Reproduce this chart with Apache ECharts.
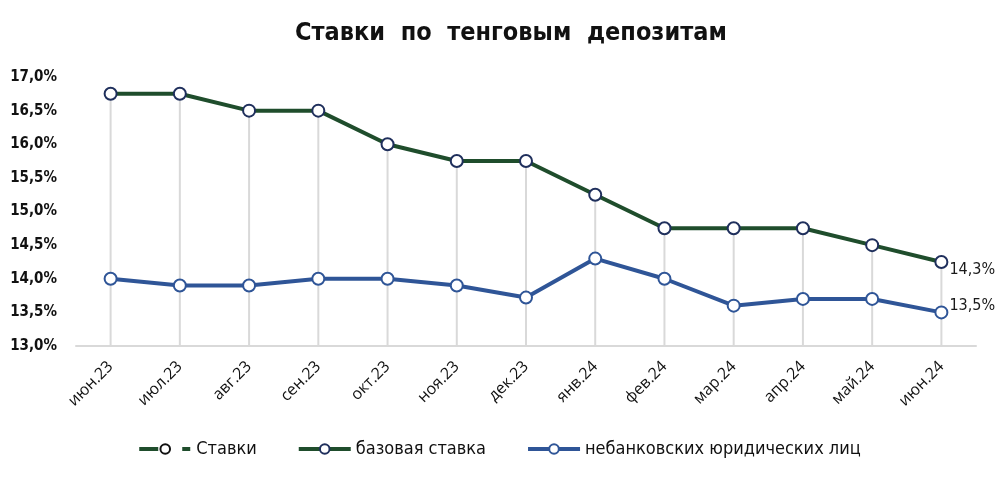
<!DOCTYPE html>
<html><head><meta charset="utf-8">
<script src="https://cdn.jsdelivr.net/npm/echarts@6/dist/echarts.min.js"></script>
<style>html,body{margin:0;padding:0;background:#fff}#c{width:998px;height:479px}</style>
</head><body><div id="c"></div>
<script>
const categories = ['июн.23','июл.23','авг.23','сен.23','окт.23','ноя.23','дек.23','янв.24','фев.24','мар.24','апр.24','май.24','июн.24'];
const baseRate = [16.75,16.75,16.5,16.5,16.0,15.75,15.75,15.25,14.75,14.75,14.75,14.5,14.25];
const legalRate = [14.0,13.9,13.9,14.0,14.0,13.9,13.72,14.3,14.0,13.6,13.7,13.7,13.5];
const endLabels = ['14,3%','13,5%'];
const yTicks = {min:13, max:17, interval:0.5};

const GREEN = '#1f4d2c', BLUE = '#2f5597', NAVY = '#1f2f5c';
const cond = '"DejaVu Sans Condensed","Liberation Sans Narrow",sans-serif';

function withEnd(arr, label, off){
  return arr.map((v,i)=> i===arr.length-1 ? {value:v, label:{show:true, formatter:label, position:'right', offset:off, color:'#1a1a1a', fontSize:16, fontFamily:cond}} : v);
}

const chart = echarts.init(document.getElementById('c'));
chart.setOption({
  animation:false,
  title:{text:'Ставки  по  тенговым  депозитам', left:290, top:16,
    textStyle:{fontSize:25, fontWeight:'bold', color:'#111', fontFamily:cond}},
  grid:{left:76, right:22, top:77, bottom:133, containLabel:false},
  legend:{data:['Ставки','базовая ставка','небанковских юридических лиц'], top:435, left:'center',
    itemWidth:52, itemHeight:12, itemGap:40,
    lineStyle:{width:4},
    textStyle:{fontSize:18, color:'#111', fontFamily:cond}},
  xAxis:{type:'category', data:categories, boundaryGap:true,
    axisLine:{lineStyle:{color:'#d9d9d9', width:2}}, axisTick:{show:false},
    axisLabel:{rotate:45, fontSize:16, color:'#111', fontFamily:'"Open Sans",sans-serif', margin:18, interval:0}},
  yAxis:{type:'value', min:yTicks.min, max:yTicks.max, interval:yTicks.interval,
    splitLine:{show:false}, axisLine:{show:false}, axisTick:{show:false},
    axisLabel:{formatter:v=>v.toFixed(1).replace('.',',')+'%', fontSize:15, color:'#111', fontFamily:cond, margin:19, fontWeight:'bold'}},
  series:[
    {name:'drop', type:'bar', data:baseRate, barWidth:2, itemStyle:{color:'#d9d9d9'}, z:1, silent:true, legendHoverLink:false},
    {name:'Ставки', type:'line', data:[], symbol:'circle', symbolSize:10,
      lineStyle:{color:GREEN, width:4, type:[19,24,8,200]}, itemStyle:{color:'#fff', borderColor:'#111', borderWidth:2}},
    {name:'базовая ставка', type:'line', data:withEnd(baseRate, endLabels[0], [-4,8]), symbol:'circle', symbolSize:12, z:3,
      lineStyle:{color:GREEN, width:4}, itemStyle:{color:'#fff', borderColor:NAVY, borderWidth:2}},
    {name:'небанковских юридических лиц', type:'line', data:withEnd(legalRate, endLabels[1], [-4,-7]), symbol:'circle', symbolSize:12, z:3,
      lineStyle:{color:BLUE, width:4}, itemStyle:{color:'#fff', borderColor:BLUE, borderWidth:2}}
  ]
});
</script></body></html>
